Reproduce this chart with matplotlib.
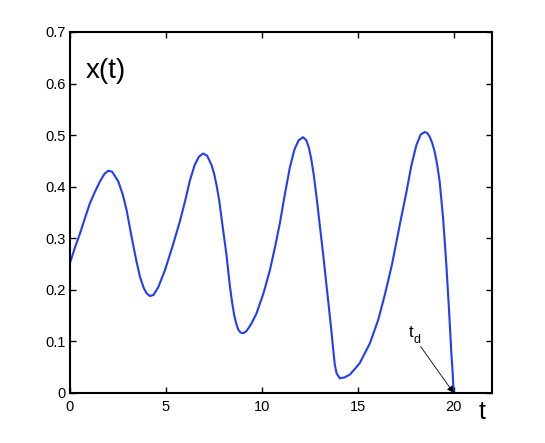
import numpy as np
import matplotlib
matplotlib.use('Agg')
from matplotlib import pyplot as plt

plt.rcParams['font.family'] = ['Liberation Sans', 'DejaVu Sans']

# values
t = [0, 0.25, 0.52, 0.78, 1.04, 1.3, 1.56, 1.8, 2.0, 2.2, 2.52, 2.75, 2.95,
     3.21, 3.45, 3.65, 3.85, 4.0, 4.17, 4.35, 4.6, 4.95, 5.35, 5.73, 6.0,
     6.25, 6.5, 6.72, 6.94, 7.15, 7.38, 7.52, 7.64, 7.78, 7.9, 8.03, 8.16,
     8.33, 8.45, 8.56, 8.67, 8.77, 8.9, 9.03, 9.2, 9.45, 9.72, 10.1, 10.42,
     10.7, 10.94, 11.2, 11.46, 11.7, 11.92, 12.15, 12.32, 12.45, 12.57,
     12.7, 12.85, 13.02, 13.2, 13.37, 13.5, 13.63, 13.72, 13.8, 13.9, 14.06,
     14.3, 14.6, 15.1, 15.63, 16.06, 16.41, 16.79, 17.19, 17.54, 17.8,
     18.06, 18.28, 18.49, 18.62, 18.75, 18.88, 19.01, 19.14, 19.27, 19.45,
     19.62, 19.76, 19.88, 19.95, 20.0]
x = [0.252, 0.281, 0.309, 0.339, 0.368, 0.39, 0.41, 0.425, 0.431, 0.429,
     0.41, 0.385, 0.355, 0.303, 0.258, 0.225, 0.203, 0.193, 0.188, 0.19,
     0.205, 0.238, 0.285, 0.333, 0.372, 0.412, 0.442, 0.458, 0.4645, 0.46,
     0.442, 0.424, 0.403, 0.373, 0.339, 0.303, 0.267, 0.209, 0.176, 0.151,
     0.134, 0.123, 0.117, 0.116, 0.12, 0.134, 0.154, 0.195, 0.238, 0.285,
     0.329, 0.385, 0.437, 0.472, 0.49, 0.496, 0.49, 0.476, 0.455, 0.425,
     0.381, 0.326, 0.268, 0.209, 0.165, 0.119, 0.085, 0.056, 0.038, 0.0285,
     0.03, 0.036, 0.0576, 0.096, 0.141, 0.19, 0.25, 0.326, 0.39, 0.442,
     0.481, 0.501, 0.506, 0.504, 0.497, 0.485, 0.468, 0.443, 0.41, 0.339,
     0.248, 0.16, 0.077, 0.038, 0.0]

xticks = [0, 5, 10, 15, 20]
yticks = [0, 0.1, 0.2, 0.3, 0.4, 0.5, 0.6, 0.7]
ytick_labels = ['0', '0.1', '0.2', '0.3', '0.4', '0.5', '0.6', '0.7']
t_d = 20

fig = plt.figure(figsize=(5.45, 4.43), dpi=100)
ax = fig.add_axes([0.1284, 0.1129, 0.7744, 0.8149])

ax.plot(t, x, color='#1f3cff', lw=1.5)

ax.set_xlim(0, 22)
ax.set_ylim(0, 0.7)
ax.set_xticks(xticks)
ax.set_xticklabels([str(v) for v in xticks])
ax.set_yticks(yticks)
ax.set_yticklabels(ytick_labels)
ax.tick_params(direction='in', length=4, width=1, top=True, right=True,
               labelsize=10.5)
ax.tick_params(axis='x', pad=5)
ax.tick_params(axis='y', pad=3)
for s in ax.spines.values():
    s.set_linewidth(1.5)

ax.text(0.8, 0.624, 'x(t)', fontsize=20, va='center')
ax.text(0.976, -0.053, 't', transform=ax.transAxes, ha='center',
        va='center', fontsize=18)

# t_d marker: arrow pointing at the end of the trajectory
ax.annotate('', xy=(t_d, 0), xytext=(18.28, 0.09),
            arrowprops=dict(arrowstyle='-|>', lw=0.6, color='k',
                            mutation_scale=10, shrinkA=0, shrinkB=0))
ax.text(17.64, 0.108, 't', fontsize=12, va='baseline')
ax.text(17.9, 0.097, 'd', fontsize=9, va='baseline')

plt.savefig('out.png', dpi=100)
